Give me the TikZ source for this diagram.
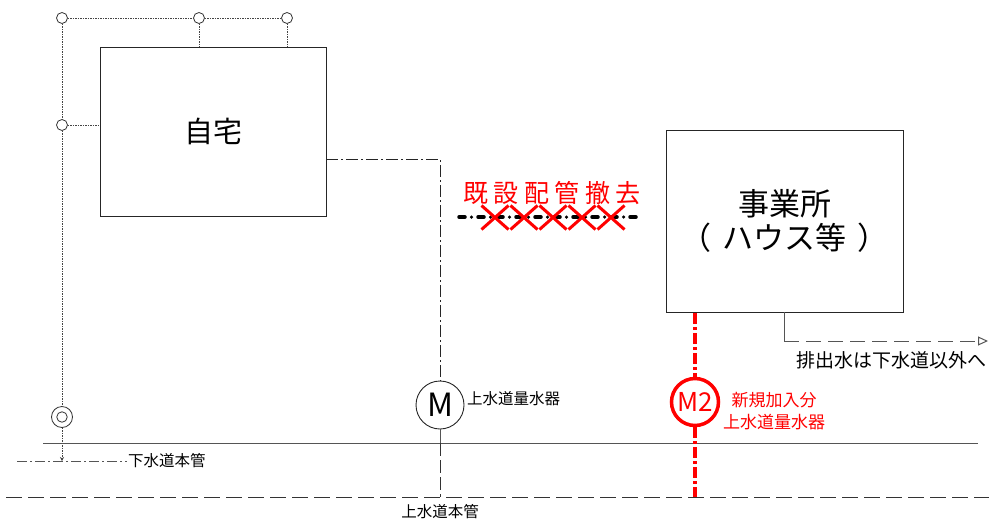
\documentclass[tikz,border=0pt]{standalone}
\usepackage{fontspec}
\setmainfont{Noto Sans CJK JP}
\usetikzlibrary{arrows.meta,shapes.misc}
\definecolor{lg}{HTML}{555555}
\definecolor{dg}{HTML}{444444}
\definecolor{rd}{HTML}{FF0000}
\begin{document}
\begin{tikzpicture}[x=1pt,y=-1pt,
  box/.style={draw=black!85, line width=1pt, inner sep=0pt, outer sep=0pt},
  tap/.style={circle, draw=black!80, fill=white, minimum size=11pt, inner sep=0pt, line width=0.8pt},
  dotline/.style={draw=dg, line width=1pt, dash pattern=on 1.5pt off 1pt},
  dashdotline/.style={draw=black!85, line width=0.9pt, dash pattern=on 12pt off 3pt on 2pt off 3pt},
  sewerline/.style={draw=lg, line width=0.9pt, dash pattern=on 10pt off 3pt on 2pt off 3pt},
  mainline/.style={draw=black!80, line width=1pt, dash pattern=on 16pt off 6pt},
  plain/.style={draw=lg, line width=1pt},
  redline/.style={draw=rd, line width=4pt, dash pattern=on 11pt off 3pt on 3pt off 3pt},
  fs/.style={font=\fontsize{#1}{#1}\selectfont}
]
\useasboundingbox (0,0) rectangle (989,528);

% boxes
\node[box, minimum width=226pt, minimum height=169pt, fs=29] (jitaku) at (213,131.5) {自宅};
\node[box, minimum width=237pt, minimum height=182pt, align=center,
      font=\fontsize{31}{34}\selectfont] (jigyo) at (784.5,221) {事業所\\（\hspace{11pt}ハウス等\hspace{11pt}）};

% taps
\node[tap] (t1) at (62,18) {};
\node[tap] (t2) at (199,18) {};
\node[tap] (t3) at (287,18) {};
\node[tap] (t4) at (62,125) {};
\node[circle, draw=black!80, fill=white, minimum size=21pt, inner sep=0pt, line width=0.8pt] (ds) at (62,417) {};
\node[circle, draw=black!80, minimum size=10.5pt, inner sep=0pt, line width=0.8pt] (dsi) at (62,417) {};

\draw[dotline] (t1) -- (t2);
\draw[dotline] (t2) -- (t3);
\draw[dotline] (t2) -- (t2 |- jitaku.north);
\draw[dotline] (t3) -- (t3 |- jitaku.north);
\draw[dotline] (t1) -- (t4);
\draw[dotline] (t4) -- (t4 -| jitaku.west);
\draw[dotline] (t4) -- (ds);
\coordinate (sa) at (62,461);
\draw[dotline, -{Stealth[length=4pt,width=4pt]}] (ds) -- (sa);

% meter M
\node[circle, draw=black!85, line width=0.9pt, minimum size=48pt, inner sep=0pt, fs=32] (M) at (440,405) {M};
\node[anchor=west, fs=15.5, inner sep=0pt] (Mlab) at (467,399) {上水道量水器};
\coordinate (j1) at (326,159);
\coordinate (bend) at (440,159);
\draw[dashdotline] (j1) -- (bend) -- (M.north);

% solid horizontal line
\coordinate (sl) at (43,443);
\coordinate (sr) at (978,443);
\draw[plain] (sl) -- (sr);
\coordinate (mj) at (440,443);
\coordinate (mm) at (440,497);
\draw[plain] (M.south) -- (mj);
\draw[draw=black!80, line width=0.9pt, dash pattern=on 13pt off 4pt] (mj) -- (mm);

% main water pipe
\coordinate (ml) at (6,497);
\coordinate (mr) at (989,497);
\draw[mainline] (ml) -- (mr);
\node[fs=15.5, inner sep=0pt] (mainlab) at (440,512) {上水道本管};

% sewer main
\coordinate (s1) at (17,461);
\coordinate (s2) at (127,461);
\draw[sewerline] (s1) -- (s2);
\node[anchor=west, fs=15.5, inner sep=0pt] (sewlab) at (128,461) {下水道本管};

% removed pipe
\node[text=rd, fs=25, inner sep=0pt] (remlab) at (552,193) {既\hspace{5.5pt}設\hspace{5.5pt}配\hspace{5.5pt}管\hspace{5.5pt}撤\hspace{5.5pt}去};
\coordinate (r1) at (459,217);
\coordinate (r2) at (642,217);
\draw[draw=black, line width=3.5pt, line cap=round, dash pattern=on 6pt off 6.5pt on 0pt off 6.5pt] (r1) -- (r2);
\foreach \i/\cx in {1/495,2/524,3/553,4/582,5/611}
  \node[cross out, draw=rd, line width=3pt, minimum width=24pt, minimum height=21pt, inner sep=0pt] (x\i) at (\cx,217.5) {};

% new meter M2
\node[circle, draw=rd, line width=3.5pt, minimum size=47pt, inner sep=0pt, text=rd, fs=26] (M2) at (695,402) {M2};
\node[text=rd, align=center, font=\fontsize{17}{22}\selectfont, inner sep=0pt] (M2lab) at (774,411) {新規加入分\\上水道量水器};
\coordinate (rt) at (695,313);
\coordinate (rb) at (695,497);
\draw[redline] (rt) -- (M2.north);
\draw[redline] (M2.south) -- (rb);

% drain
\coordinate (d0) at (784,312);
\coordinate (d1) at (784,341);
\coordinate (d2) at (988,341);
\draw[plain] (d0) -- (d1);
\draw[plain, dash pattern=on 15pt off 7pt, -{Triangle[open,length=10pt,width=9pt]}] (d1) -- (d2);
\node[anchor=west, fs=19, inner sep=0pt] (drlab) at (796,360) {排出水は下水道以外へ};
\end{tikzpicture}
\end{document}
